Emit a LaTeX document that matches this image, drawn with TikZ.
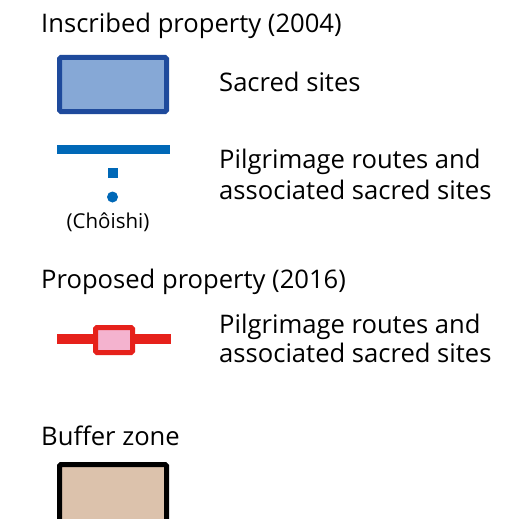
\documentclass[tikz,border=0pt]{standalone}
\usepackage{fontspec}
\setmainfont{Open Sans}
\definecolor{sacfill}{HTML}{86A8D6}
\definecolor{sacdraw}{HTML}{1E4A9C}
\definecolor{routeblue}{HTML}{0068B7}
\definecolor{routered}{HTML}{E6211B}
\definecolor{pinkfill}{HTML}{F4B3CF}
\definecolor{bufffill}{HTML}{DCC2AC}
\tikzset{
  lbl/.style={anchor=base west, inner sep=0pt, font=\fontsize{25.6}{30}\selectfont},
  small/.style={anchor=base, inner sep=0pt, font=\fontsize{20.5}{24}\selectfont},
}
\begin{document}
\begin{tikzpicture}[x=1pt,y=-1pt]
\useasboundingbox (0,0) rectangle (522,519);
\clip (0,0) rectangle (522,519);
\fill[white] (0,0) rectangle (522,519);
% headings
\node[lbl] (h1) at (41,33) {Inscribed property (2004)};
\node[lbl] (h2) at (41,288) {Proposed property (2016)};
\node[lbl] (h3) at (41,445) {Buffer zone};
% sacred sites
\draw[sacdraw, fill=sacfill, line width=5pt, rounded corners=1.5pt] (59.5,57.5) rectangle (166.5,111.5);
\node[lbl] (t1) at (219,92) {Sacred sites};
% blue routes
\draw[routeblue, line width=9pt] (57,149) -- (170,149);
\fill[routeblue] (107.5,168) rectangle (117.5,178);
\fill[routeblue] (112.5,197) circle (5.5);
\node[small] (ch) at (108,228) {(Chôishi)};
\node[lbl] (t2a) at (219,168) {Pilgrimage routes and};
\node[lbl] (t2b) at (219,199) {associated sacred sites};
% red routes
\draw[routered, line width=10pt] (57,339) -- (171,339);
\draw[routered, fill=pinkfill, line width=5pt, rounded corners=1.5pt] (95.5,327.5) rectangle (132.5,352.5);
\node[lbl] (t3a) at (219,333) {Pilgrimage routes and};
\node[lbl] (t3b) at (219,362) {associated sacred sites};
% buffer
\draw[black, fill=bufffill, line width=5pt, rounded corners=1.5pt] (59.5,464.5) rectangle (166.5,535);
\end{tikzpicture}
\end{document}
